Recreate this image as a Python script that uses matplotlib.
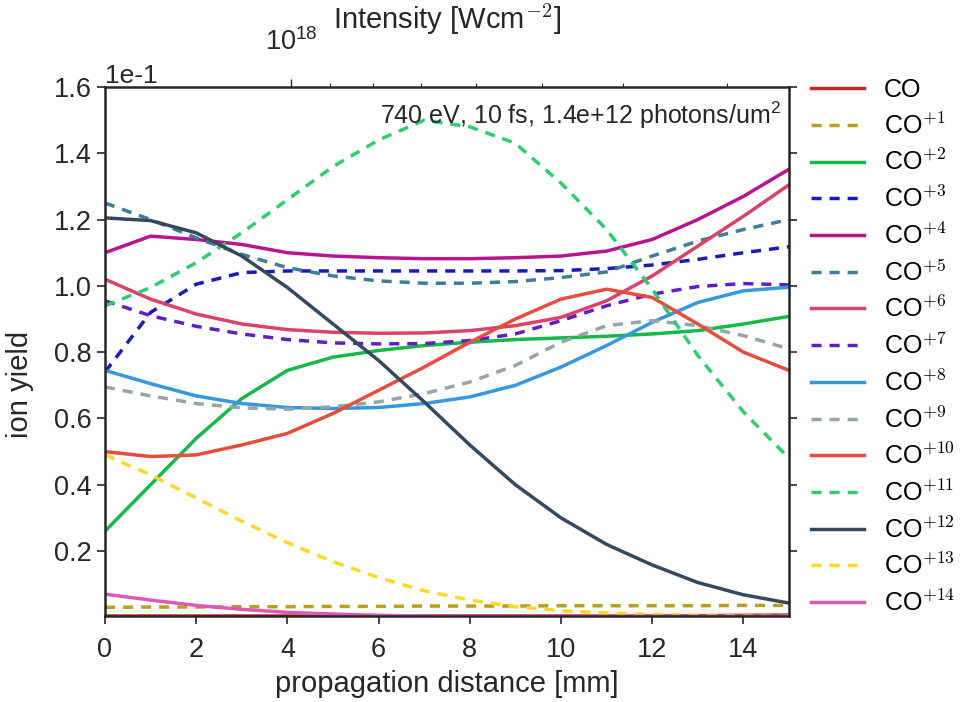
import matplotlib
matplotlib.use("Agg")
import matplotlib.pyplot as plt
import numpy as np
from matplotlib.ticker import MultipleLocator

plt.rcParams['font.family'] = ['Liberation Sans', 'DejaVu Sans']
plt.rcParams['mathtext.fontset'] = 'cm'
plt.rcParams['axes.unicode_minus'] = False

# propagation distance [mm]
distance = [0, 1, 2, 3, 4, 5, 6, 7, 8, 9, 10, 11, 12, 13, 14, 15]

# ion yields (in units of 1e-1)
co    = [0.004, 0.004, 0.004, 0.004, 0.004, 0.004, 0.004, 0.004, 0.004, 0.004, 0.004, 0.004, 0.004, 0.005, 0.006, 0.007]
co_1  = [0.030, 0.031, 0.031, 0.032, 0.032, 0.033, 0.033, 0.034, 0.034, 0.034, 0.035, 0.035, 0.035, 0.035, 0.036, 0.036]
co_2  = [0.26, 0.40, 0.54, 0.66, 0.745, 0.785, 0.805, 0.82, 0.83, 0.838, 0.843, 0.848, 0.855, 0.865, 0.885, 0.908]
co_3  = [0.74, 0.92, 1.005, 1.04, 1.045, 1.045, 1.045, 1.045, 1.045, 1.045, 1.046, 1.052, 1.063, 1.08, 1.10, 1.118]
co_4  = [1.10, 1.15, 1.14, 1.125, 1.10, 1.09, 1.085, 1.082, 1.082, 1.085, 1.09, 1.105, 1.14, 1.20, 1.27, 1.352]
co_5  = [1.25, 1.20, 1.145, 1.095, 1.055, 1.03, 1.015, 1.008, 1.008, 1.013, 1.025, 1.042, 1.09, 1.135, 1.17, 1.20]
co_6  = [1.02, 0.96, 0.915, 0.885, 0.868, 0.86, 0.857, 0.858, 0.865, 0.88, 0.905, 0.955, 1.03, 1.12, 1.21, 1.305]
co_7  = [0.955, 0.91, 0.878, 0.855, 0.838, 0.828, 0.825, 0.826, 0.835, 0.855, 0.895, 0.94, 0.975, 0.998, 1.007, 1.003]
co_8  = [0.745, 0.705, 0.668, 0.645, 0.633, 0.63, 0.633, 0.645, 0.665, 0.70, 0.755, 0.82, 0.89, 0.95, 0.985, 0.996]
co_9  = [0.695, 0.668, 0.645, 0.632, 0.628, 0.635, 0.65, 0.675, 0.71, 0.76, 0.83, 0.88, 0.895, 0.88, 0.85, 0.81]
co_10 = [0.50, 0.485, 0.49, 0.52, 0.555, 0.615, 0.685, 0.755, 0.83, 0.90, 0.96, 0.99, 0.965, 0.885, 0.80, 0.745]
co_11 = [0.94, 0.995, 1.07, 1.16, 1.26, 1.36, 1.44, 1.50, 1.48, 1.43, 1.31, 1.17, 0.99, 0.79, 0.62, 0.48]
co_12 = [1.205, 1.197, 1.16, 1.09, 0.995, 0.885, 0.775, 0.65, 0.52, 0.40, 0.30, 0.22, 0.158, 0.105, 0.068, 0.043]
co_13 = [0.49, 0.43, 0.36, 0.29, 0.225, 0.168, 0.12, 0.08, 0.052, 0.032, 0.02, 0.013, 0.009, 0.006, 0.004, 0.003]
co_14 = [0.070, 0.052, 0.036, 0.024, 0.015, 0.010, 0.006, 0.004, 0.003, 0.003, 0.003, 0.003, 0.003, 0.003, 0.003, 0.003]

series = [co, co_1, co_2, co_3, co_4, co_5, co_6, co_7, co_8, co_9, co_10, co_11, co_12, co_13, co_14]
labels = ['CO'] + ['CO$^{+%d}$' % i for i in range(1, 15)]
colors = ['#c7291e', '#b8a01c', '#17b84a', '#1a1ab8', '#b5168f', '#3a7f96', '#d9436a',
          '#5f1fc4', '#3498db', '#95a5a6', '#e74c3c', '#2ecc71', '#34495e', '#ffd729', '#de59b5']
dashed = [False, True] * 7 + [False]

# top axis: intensity ticks (W/cm^2) and where they fall along the propagation axis [mm]
intensity_major_pos = [4.08]
intensity_major_lab = ['$\\mathdefault{10^{18}}$']
intensity_minor_pos = [4.93, 5.87, 6.92, 8.14, 9.58, 11.35, 13.64]

scale = 1e-1
TXT = '#262626'

fig = plt.figure(figsize=(9.6, 7.02), dpi=100)
ax = fig.add_axes([105/960, 1-616/702, (789-105)/960, (616-87)/702])

for y, lab, c, d in zip(series, labels, colors, dashed):
    yy = np.asarray(y) * scale
    if d:
        ax.plot(distance, yy, color=c, lw=2.5, ls=(0, (2.9, 2.3)), label=lab)
    else:
        ax.plot(distance, yy, color=c, lw=2.5, label=lab)

ax.set_xlim(0, 15)
ax.set_ylim(0.0004, 0.16)
ax.yaxis.set_major_locator(MultipleLocator(0.02))
ax.xaxis.set_major_locator(MultipleLocator(2))
ax.ticklabel_format(axis='y', style='sci', scilimits=(0, 0))
ax.tick_params(axis='both', which='major', direction='out', length=6, width=1.2,
               labelsize=19.5, colors=TXT, right=True)
ax.tick_params(axis='x', which='major', pad=9)
for s in ax.spines.values():
    s.set_linewidth(1.8)
    s.set_color(TXT)
ax.yaxis.get_offset_text().set_fontsize(19)
ax.set_xlabel('propagation distance [mm]', fontsize=21, color=TXT, labelpad=5)
ax.set_ylabel('ion yield', fontsize=21, color=TXT)
ax.yaxis.set_label_coords(-0.104, 0.437)

ax.text(0.99, 0.975, '740 eV, 10 fs, 1.4e+12 photons/um$^\\mathdefault{2}$',
        transform=ax.transAxes, ha='right', va='top', fontsize=18, color=TXT)

ax2 = ax.twiny()
ax2.set_xlim(ax.get_xlim())
ax2.set_xticks(intensity_major_pos, labels=intensity_major_lab)
ax2.set_xticks(intensity_minor_pos, minor=True)
ax2.tick_params(axis='x', which='major', direction='out', length=6, width=1.0,
                labelsize=19.5, colors=TXT, pad=16)
ax2.tick_params(axis='x', which='minor', direction='out', length=3, width=0.8, colors=TXT)
ax2.set_xlabel('Intensity [Wcm$^{-2}$]', fontsize=21, color=TXT, labelpad=0)
for s in ax2.spines.values():
    s.set_visible(False)

ax.legend(loc='upper left', bbox_to_anchor=(811/960, 1-78/702), bbox_transform=fig.transFigure,
          frameon=False, fontsize=18, borderaxespad=0, borderpad=0,
          handlelength=2.1, labelspacing=0.44, handletextpad=0.8)

fig.savefig('out.png', dpi=100)
